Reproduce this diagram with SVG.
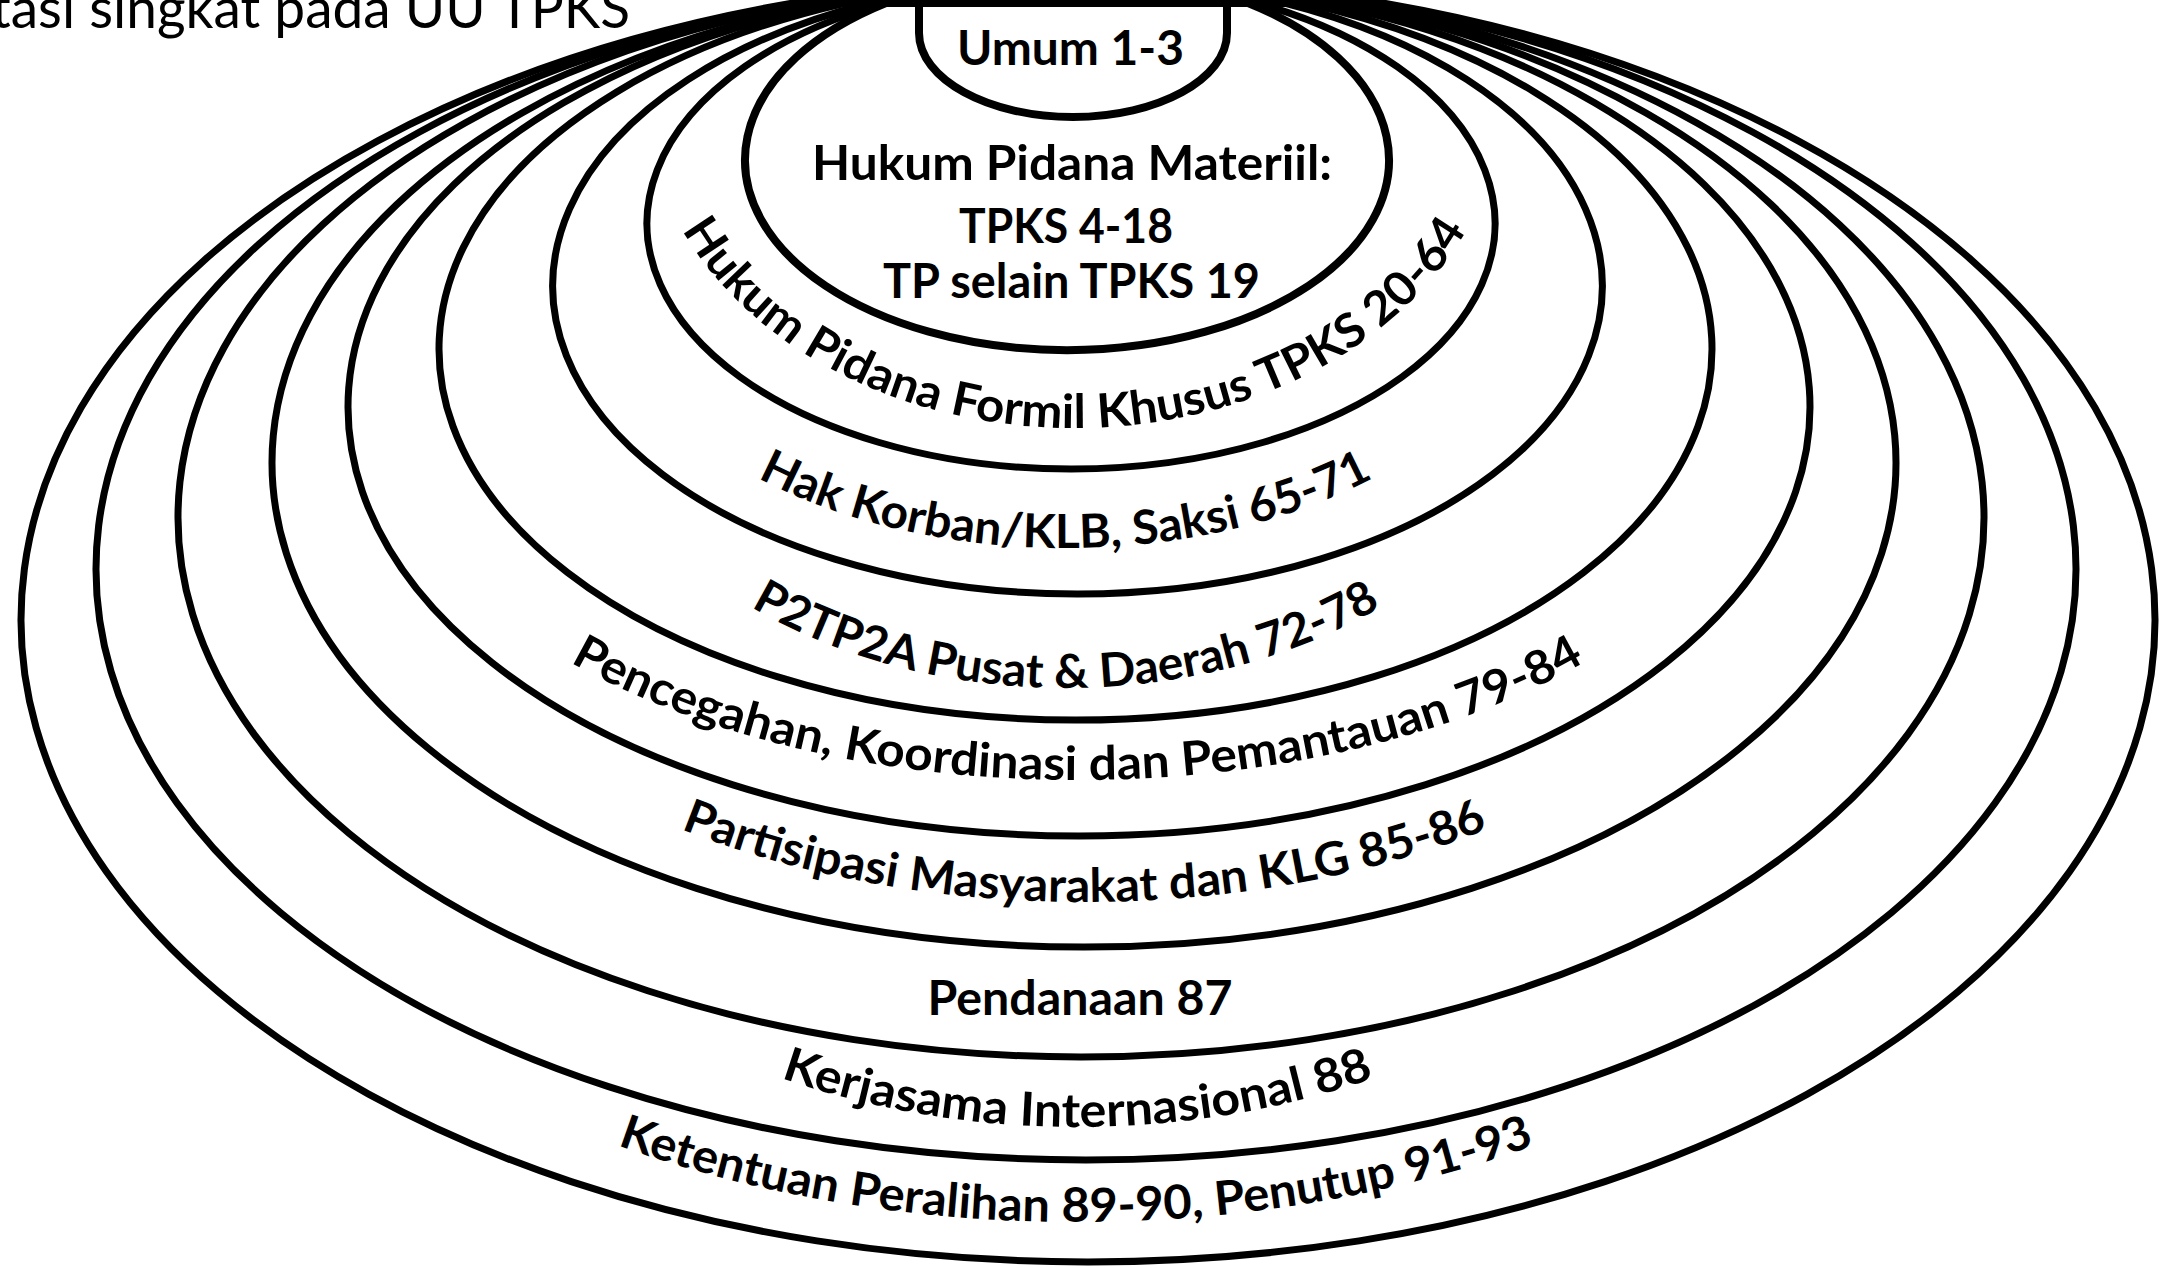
<svg xmlns="http://www.w3.org/2000/svg" width="2164" height="1268" viewBox="0 0 2164 1268">
<defs>
<style>
.ring{fill:none;stroke:#000;stroke-width:7;stroke-linejoin:round}
.inner{stroke-width:8}
.lbl{font-family:Lato,"Liberation Sans",sans-serif;font-weight:700;font-size:47px;fill:#000}
.title{font-family:Lato,"Liberation Sans",sans-serif;font-weight:400;font-size:56px;fill:#000}
</style>
<path id="p-formil" d="M643.5,90 A431,338 0 0 0 1505.5,90"/>
<path id="p-hak" d="M588,250 A477.5,298 0 0 0 1543,250"/>
<path id="p-p2" d="M568.8,330 A497.2,358 0 0 0 1563.2,330"/>
<path id="p-pencegahan" d="M376.8,400 A700.7,380 0 0 0 1778.2,400"/>
<path id="p-partisipasi" d="M382.5,500 A702,402 0 0 0 1786.5,500"/>
<path id="p-kerjasama" d="M373.5,600 A704,527 0 0 0 1781.5,600"/>
<path id="p-ketentuan" d="M198,700 A878,522 0 0 0 1954,700"/>
</defs>
<rect width="2164" height="1268" fill="#fff"/>
<text class="title" x="-9" y="28" textLength="639" lengthAdjust="spacingAndGlyphs">tasi singkat pada UU TPKS</text>

<g id="ring-ketentuan">
<path class="ring" d="M793,3 A1067,642 0 1 0 1383,3 Z"/>
<text class="lbl"><textPath href="#p-ketentuan" startOffset="50%" text-anchor="middle" textLength="935" lengthAdjust="spacingAndGlyphs">Ketentuan Peralihan 89-90, Penutup 91-93</textPath></text>
</g>
<g id="ring-kerjasama">
<path class="ring" d="M801,3 A990,591 0 1 0 1371,3 Z"/>
<text class="lbl"><textPath href="#p-kerjasama" startOffset="50%" text-anchor="middle" textLength="604" lengthAdjust="spacingAndGlyphs">Kerjasama Internasional 88</textPath></text>
</g>
<g id="ring-pendanaan">
<path class="ring" d="M809,3 A903,539.5 0 1 0 1353,3 Z"/>
<text class="lbl" x="1080" y="1015" text-anchor="middle" textLength="305" lengthAdjust="spacingAndGlyphs">Pendanaan 87</text>
</g>
<g id="ring-partisipasi">
<path class="ring" d="M827,3 A812,484.5 0 1 0 1341,3 Z"/>
<text class="lbl"><textPath href="#p-partisipasi" startOffset="50%" text-anchor="middle" textLength="825" lengthAdjust="spacingAndGlyphs">Partisipasi Masyarakat dan KLG 85-86</textPath></text>
</g>
<g id="ring-pencegahan">
<path class="ring" d="M833,3 A731,429 0 1 0 1325,3 Z"/>
<text class="lbl"><textPath href="#p-pencegahan" startOffset="50%" text-anchor="middle" textLength="1053" lengthAdjust="spacingAndGlyphs">Pencegahan, Koordinasi dan Pemantauan 79-84</textPath></text>
</g>
<g id="ring-p2tp2a">
<path class="ring" d="M846,3 A636.5,371 0 1 0 1305,3 Z"/>
<text class="lbl"><textPath href="#p-p2" startOffset="50%" text-anchor="middle" textLength="658" lengthAdjust="spacingAndGlyphs">P2TP2A Pusat &amp; Daerah 72-78</textPath></text>
</g>
<g id="ring-hak">
<path class="ring" d="M870.5,3 A524.7,308 0 1 0 1284.5,3 Z"/>
<text class="lbl"><textPath href="#p-hak" startOffset="50%" text-anchor="middle" textLength="637" lengthAdjust="spacingAndGlyphs">Hak Korban/KLB, Saksi 65-71</textPath></text>
</g>
<g id="ring-formil">
<path class="ring" d="M884.6,3 A424,245.5 0 1 0 1257.4,3 Z"/>
<text class="lbl"><textPath href="#p-formil" startOffset="50%" text-anchor="middle" textLength="918" lengthAdjust="spacingAndGlyphs">Hukum Pidana Formil Khusus TPKS 20-64</textPath></text>
</g>
<g id="ring-materiil">
<path class="ring inner" d="M886,3 A322,190 0 1 0 1248,3 Z"/>
<text class="lbl" x="1072" y="180" text-anchor="middle" textLength="520" lengthAdjust="spacingAndGlyphs">Hukum Pidana Materiil:</text>
<text class="lbl" x="1066" y="243" text-anchor="middle" textLength="214" lengthAdjust="spacingAndGlyphs">TPKS 4-18</text>
<text class="lbl" x="1071.5" y="298" text-anchor="middle" textLength="377" lengthAdjust="spacingAndGlyphs">TP selain TPKS 19</text>
</g>
<g id="ring-umum">
<path class="ring inner" d="M919,3 L919,33 C919,79 988,117 1073,117 C1158,117 1227,79 1227,33 L1227,3 Z"/>
<text class="lbl" x="1070.5" y="65" text-anchor="middle" textLength="227" lengthAdjust="spacingAndGlyphs">Umum 1-3</text>
</g>
</svg>
